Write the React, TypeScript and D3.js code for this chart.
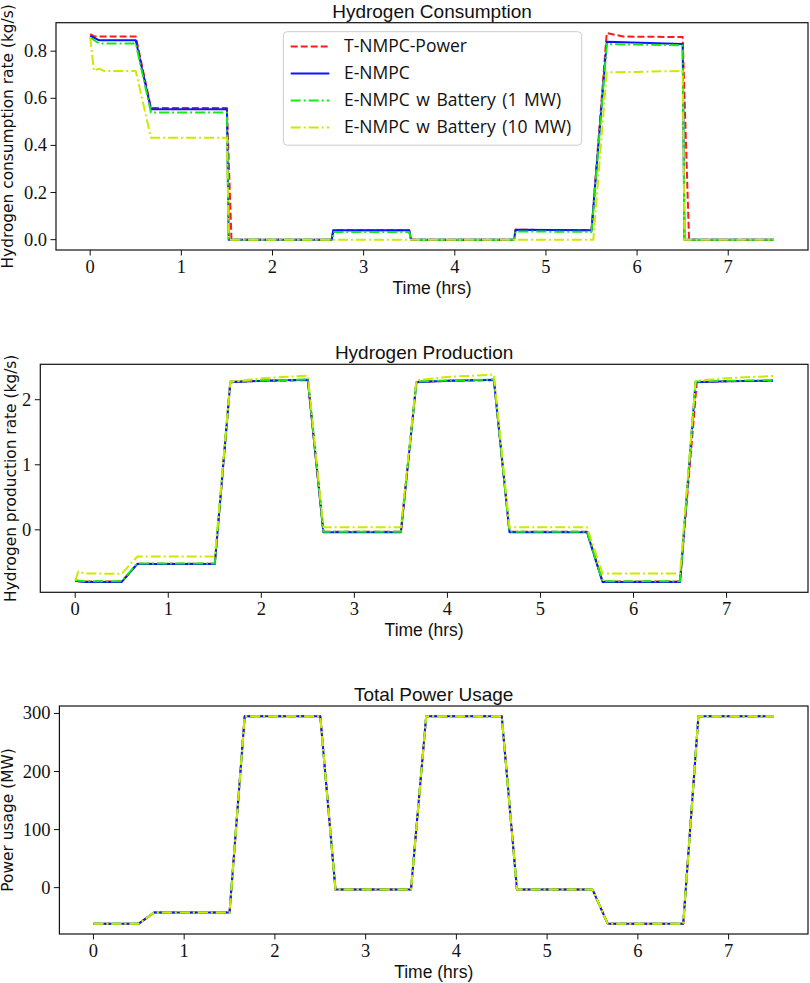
import React from "react";
import * as d3 from "d3";

// ---------- data ----------
const xTicks = [0, 1, 2, 3, 4, 5, 6, 7];
const consumptionTicks = [0, 0.2, 0.4, 0.6, 0.8];
const productionTicks = [0, 1, 2];
const powerTicks = [0, 100, 200, 300];

const seriesLabels = [
  "T-NMPC-Power",
  "E-NMPC",
  "E-NMPC w Battery (1 MW)",
  "E-NMPC w Battery (10 MW)",
];

// Hydrogen consumption (kg/s) : [time (hrs), value]
const consTNMPC: [number, number][] = [
  [0, 0.872], [0.05, 0.862], [0.5, 0.862], [0.667, 0.559], [1.5, 0.559], [1.55, 0],
  [2.65, 0], [2.667, 0.04], [3.5, 0.04], [3.52, 0], [4.65, 0], [4.667, 0.042],
  [5.5, 0.04], [5.667, 0.877], [5.85, 0.862], [6.5, 0.86], [6.57, 0], [7.5, 0],
];
const consENMPC: [number, number][] = [
  [0, 0.865], [0.1, 0.846], [0.5, 0.846], [0.667, 0.553], [1.5, 0.553], [1.52, 0],
  [2.65, 0], [2.667, 0.04], [3.5, 0.04], [3.52, 0], [4.65, 0], [4.667, 0.042],
  [5.5, 0.04], [5.667, 0.84], [6.5, 0.83], [6.52, 0], [7.5, 0],
];
const consBat1: [number, number][] = [
  [0, 0.857], [0.1, 0.833], [0.5, 0.833], [0.667, 0.54], [1.5, 0.54], [1.52, 0],
  [2.65, 0], [2.667, 0.033], [3.5, 0.033], [3.52, 0], [4.65, 0], [4.667, 0.035],
  [5.5, 0.033], [5.667, 0.83], [6.5, 0.825], [6.52, 0], [7.5, 0],
];
const consBat10: [number, number][] = [
  [0, 0.86], [0.04, 0.718], [0.1, 0.726], [0.15, 0.716], [0.5, 0.716], [0.667, 0.433],
  [1.5, 0.433], [1.52, 0], [5.52, 0], [5.667, 0.71], [6.5, 0.716], [6.52, 0], [7.5, 0],
];

// Hydrogen production (kg/s)
const prodTNMPC: [number, number][] = [
  [0, -0.785], [0.1, -0.795], [0.5, -0.795], [0.667, -0.52], [1.5, -0.52], [1.667, 2.275],
  [2.0, 2.29], [2.5, 2.3], [2.667, -0.03], [3.5, -0.03], [3.667, 2.275], [4.0, 2.29],
  [4.5, 2.3], [4.667, -0.03], [5.5, -0.03], [5.667, -0.795], [6.5, -0.795], [6.68, 2.27],
  [7.0, 2.285], [7.5, 2.29],
];
const prodENMPC: [number, number][] = [
  [0, -0.78], [0.1, -0.8], [0.5, -0.8], [0.667, -0.525], [1.5, -0.525], [1.667, 2.27],
  [2.0, 2.29], [2.5, 2.305], [2.667, -0.035], [3.5, -0.035], [3.667, 2.27], [4.0, 2.29],
  [4.5, 2.305], [4.667, -0.035], [5.5, -0.035], [5.667, -0.8], [6.5, -0.8], [6.667, 2.27],
  [7.0, 2.285], [7.5, 2.295],
];
const prodBat1: [number, number][] = [
  [0, -0.775], [0.1, -0.79], [0.5, -0.79], [0.667, -0.515], [1.5, -0.515], [1.667, 2.28],
  [2.0, 2.295], [2.5, 2.31], [2.667, -0.028], [3.5, -0.028], [3.667, 2.28], [4.0, 2.295],
  [4.5, 2.31], [4.667, -0.028], [5.5, -0.028], [5.667, -0.79], [6.5, -0.79], [6.667, 2.28],
  [7.0, 2.29], [7.5, 2.3],
];
const prodBat10: [number, number][] = [
  [0, -0.78], [0.033, -0.64], [0.1, -0.67], [0.5, -0.675], [0.667, -0.41], [1.5, -0.41],
  [1.667, 2.275], [2.0, 2.33], [2.5, 2.37], [2.667, 0.04], [3.5, 0.04], [3.667, 2.3],
  [4.0, 2.35], [4.5, 2.385], [4.667, 0.04], [5.5, 0.04], [5.667, -0.67], [6.5, -0.67],
  [6.667, 2.29], [7.0, 2.33], [7.5, 2.365],
];

// Total power usage (MW) — identical for every controller
const powerUsage: [number, number][] = [
  [0, -62], [0.5, -62], [0.667, -43], [1.5, -43], [1.667, 295], [2.5, 295], [2.667, -3],
  [3.5, -3], [3.667, 295], [4.5, 295], [4.667, -3], [5.5, -3], [5.667, -62], [6.5, -62],
  [6.667, 295], [7.5, 295],
];

// ---------- styles ----------
const colors = ["#ff1a1a", "#0a14ff", "#14ea14", "#cfe800"];
const dashes = ["7,3", "", "10,3,2,3", "10,3,2,3"];
const LW = 2;

const sansFont = "'Open Sans', 'DejaVu Sans', sans-serif";
const headFont = "'Liberation Sans', Arial, sans-serif";
const labelFont = "'DejaVu Sans', sans-serif";
const tickFont = "'Liberation Serif', 'DejaVu Serif', serif";

type Panel = {
  title: string;
  ylabel: string;
  yticks: number[];
  tickFmt: (v: number) => string;
  series: [number, number][][];
  box: { l: number; r: number; t: number; b: number };
  ylabelX: number;
  legend: boolean;
};

const panels: Panel[] = [
  {
    title: "Hydrogen Consumption",
    ylabel: "Hydrogen consumption rate (kg/s)",
    yticks: consumptionTicks,
    tickFmt: (v) => v.toFixed(1),
    series: [consTNMPC, consENMPC, consBat1, consBat10],
    box: { l: 56, r: 808, t: 22.7, b: 250 },
    ylabelX: 13,
    legend: true,
  },
  {
    title: "Hydrogen Production",
    ylabel: "Hydrogen production rate (kg/s)",
    yticks: productionTicks,
    tickFmt: (v) => String(v),
    series: [prodTNMPC, prodENMPC, prodBat1, prodBat10],
    box: { l: 40.3, r: 808, t: 364.3, b: 592.3 },
    ylabelX: 16,
    legend: false,
  },
  {
    title: "Total Power Usage",
    ylabel: "Power usage (MW)",
    yticks: powerTicks,
    tickFmt: (v) => String(v),
    series: [powerUsage, powerUsage, powerUsage, powerUsage],
    box: { l: 59.4, r: 808, t: 706, b: 934 },
    ylabelX: 13,
    legend: false,
  },
];

function padded(ext: [number, number]): [number, number] {
  const span = ext[1] - ext[0];
  return [ext[0] - 0.05 * span, ext[1] + 0.05 * span];
}

function PanelView({ p, idx }: { p: Panel; idx: number }) {
  const all = p.series.flat();
  const x = d3
    .scaleLinear()
    .domain(padded(d3.extent(all, (d) => d[0]) as [number, number]))
    .range([p.box.l, p.box.r]);
  const y = d3
    .scaleLinear()
    .domain(padded(d3.extent(all, (d) => d[1]) as [number, number]))
    .range([p.box.b, p.box.t]);
  const line = d3
    .line<[number, number]>()
    .x((d) => x(d[0]))
    .y((d) => y(d[1]));
  const { l, r, t, b } = p.box;
  const cx = (l + r) / 2;
  const cy = (t + b) / 2;
  const clipId = `clip${idx}`;

  const legendX = 283.3;
  const legendY = 31.7;
  const rowH = 27;

  return (
    <g>
      <defs>
        <clipPath id={clipId}>
          <rect x={l} y={t} width={r - l} height={b - t} />
        </clipPath>
      </defs>
      <g clipPath={`url(#${clipId})`}>
        {p.series.map((s, i) => (
          <path
            key={i}
            d={line(s) || ""}
            fill="none"
            stroke={colors[i]}
            strokeWidth={LW}
            strokeDasharray={dashes[i] || undefined}
            strokeLinejoin="round"
          />
        ))}
      </g>
      <rect x={l} y={t} width={r - l} height={b - t} fill="none" stroke="#111" strokeWidth={1.2} />
      {xTicks.map((v) => (
        <g key={v}>
          <line x1={x(v)} x2={x(v)} y1={b} y2={b + 5.5} stroke="#111" strokeWidth={1} />
          <text x={x(v)} y={b + 23} textAnchor="middle" fontFamily={tickFont} fontSize={18.5} fill="#111">
            {v}
          </text>
        </g>
      ))}
      {p.yticks.map((v) => (
        <g key={v}>
          <line x1={l - 5.5} x2={l} y1={y(v)} y2={y(v)} stroke="#111" strokeWidth={1} />
          <text x={l - 9} y={y(v) + 6} textAnchor="end" fontFamily={tickFont} fontSize={18.5} fill="#111">
            {p.tickFmt(v)}
          </text>
        </g>
      ))}
      <text x={cx} y={t - 5.2} textAnchor="middle" fontFamily={headFont} fontSize={19} fill="#111">
        {p.title}
      </text>
      <text x={cx} y={b + 43.5} textAnchor="middle" fontFamily={headFont} fontSize={17.5} fill="#111">
        Time (hrs)
      </text>
      <text
        transform={`translate(${p.ylabelX},${cy}) rotate(-90)`}
        textAnchor="middle"
        fontFamily={labelFont}
        fontSize={15.4}
        fill="#111"
      >
        {p.ylabel}
      </text>
      {p.legend && (
        <g>
          <rect
            x={legendX}
            y={legendY}
            width={298.4}
            height={113.5}
            rx={4}
            fill="white"
            fillOpacity={0.8}
            stroke="#cccccc"
            strokeWidth={1}
          />
          {seriesLabels.map((lab, i) => {
            const by = 52.3 + i * rowH;
            return (
              <g key={lab}>
                <line
                  x1={290.7}
                  x2={329.3}
                  y1={by - 5.7}
                  y2={by - 5.7}
                  stroke={colors[i]}
                  strokeWidth={LW}
                  strokeDasharray={dashes[i] || undefined}
                />
                <text x={344} y={by} fontFamily={sansFont} fontSize={17.5} wordSpacing={2} fill="#111">
                  {lab}
                </text>
              </g>
            );
          })}
        </g>
      )}
    </g>
  );
}

export default function App() {
  return (
    <svg
      width={810}
      height={983}
      viewBox="0 0 810 983"
      style={{ position: "absolute", left: 0, top: 0, background: "white" }}
    >
      <rect x={0} y={0} width={810} height={983} fill="white" />
      {panels.map((p, i) => (
        <PanelView key={i} p={p} idx={i} />
      ))}
    </svg>
  );
}
